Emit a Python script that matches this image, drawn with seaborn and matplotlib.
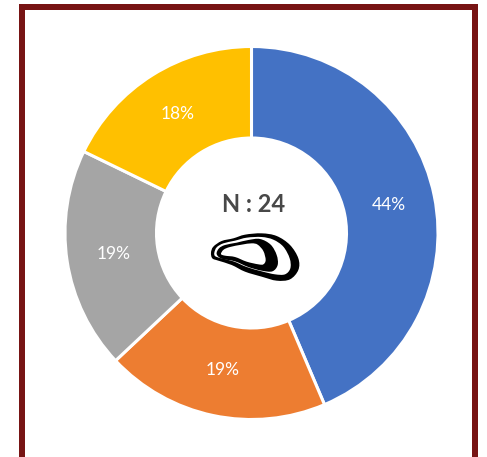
import matplotlib
matplotlib.use("Agg")
import matplotlib.pyplot as plt
from matplotlib.patches import Rectangle, PathPatch
from matplotlib.path import Path
import numpy as np
import seaborn as sns

segment_values = [43.6, 19.4, 19.2, 17.8]
segment_colors = ["#4472C4", "#ED7D31", "#A5A5A5", "#FFC000"]
center_label = "N : 24"
W, H = 487, 457
FONT = "Lato"

# Icon outlines, in zoom-crop units (3x, origin at pixel 205,230)
shell_outer = [(18,68),(25,50),(50,33),(85,25),(120,14),(170,10),(215,18),(255,45),(280,85),(280,120),(255,148),(215,152),(170,140),(120,125),(80,105),(40,92),(22,85)]
shell_band = [(28,68),(35,52),(55,40),(90,32),(125,23),(170,21),(205,29),(235,50),(254,85),(256,115),(240,133),(210,133),(170,124),(125,111),(85,94),(45,84),(30,78)]
shell_inner = [(35,72),(42,55),(60,45),(95,38),(130,30),(165,27),(197,44),(215,75),(218,105),(202,124),(170,122),(130,111),(90,94),(50,86)]
shell_core = [(48,72),(56,59),(75,51),(110,44),(140,40),(158,44),(175,63),(182,90),(175,103),(160,103),(125,95),(90,81),(60,77)]

sns.set_theme(style="white")
plt.rcParams["font.family"] = [FONT, "DejaVu Sans"]

fig = plt.figure(figsize=(W / 100, H / 100), dpi=100, facecolor="white")
ax = fig.add_axes([0, 0, 1, 1])

wedges, texts, autotexts = ax.pie(
    segment_values,
    colors=sns.color_palette(segment_colors),
    startangle=90,
    counterclock=False,
    center=(251.5, H - 233),
    radius=186.5,
    autopct="%.0f%%",
    pctdistance=0.75,
    frame=False,
    wedgeprops=dict(width=91.5, edgecolor="white", linewidth=2.2),
    textprops=dict(color="white", fontsize=12.5),
)

ax.set_xlim(0, W)
ax.set_ylim(0, H)
ax.set_aspect("equal")
ax.axis("off")

# Dark red frame, open at the bottom
frame_color = "#771414"
ax.add_patch(Rectangle((19, 0), 6, H - 4, color=frame_color, lw=0, zorder=5))
ax.add_patch(Rectangle((472, 0), 6, H - 4, color=frame_color, lw=0, zorder=5))
ax.add_patch(Rectangle((19, H - 10), 459, 6, color=frame_color, lw=0, zorder=5))

ax.text(253.5, H - 205, center_label, ha="center", va="center", fontsize=17,
        fontweight="bold", color="#484848", zorder=6)


def smooth_closed(points):
    pts = np.array([(205 + x / 3, H - (230 + y / 3)) for x, y in points])
    n = len(pts)
    verts = [pts[0]]
    codes = [Path.MOVETO]
    for i in range(n):
        p0, p1, p2, p3 = pts[i - 1], pts[i], pts[(i + 1) % n], pts[(i + 2) % n]
        verts += [p1 + (p2 - p0) / 6, p2 - (p3 - p1) / 6, p2]
        codes += [Path.CURVE4] * 3
    return Path(verts, codes)


for outline, color, z in [(shell_outer, "black", 7), (shell_band, "white", 8),
                          (shell_inner, "black", 9), (shell_core, "white", 10)]:
    ax.add_patch(PathPatch(smooth_closed(outline), facecolor=color, edgecolor="none", zorder=z))

fig.savefig("out.png", dpi=100, facecolor="white")
